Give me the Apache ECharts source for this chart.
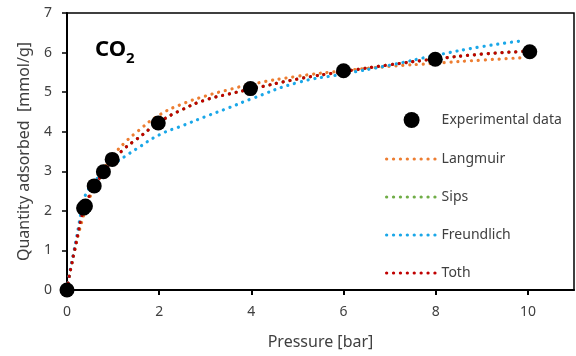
<!DOCTYPE html>
<html>
<head>
<meta charset="utf-8">
<script src="https://cdn.jsdelivr.net/npm/echarts@6/dist/echarts.min.js"></script>
<style>html,body{margin:0;padding:0;background:#fff}#c{width:576px;height:356px}</style>
</head>
<body>
<div id="c"></div>
<script>
// Experimental data
const expP = [0, 0.36, 0.4, 0.59, 0.79, 0.98, 1.98, 3.98, 6.0, 7.99, 10.04];
const expQ = [0, 2.07, 2.12, 2.63, 2.99, 3.30, 4.22, 5.09, 5.54, 5.83, 6.02];

// Model curves
const fitP = [0, 0.05, 0.1, 0.15, 0.2, 0.25, 0.3, 0.35, 0.4, 0.5, 0.6, 0.8, 1, 1.25, 1.5, 2, 2.5, 3, 3.5, 4, 5, 6, 7, 8, 9, 9.9];
const langmuirQ = [0, 0.34, 0.65, 0.92, 1.18, 1.42, 1.64, 1.84, 2.02, 2.35, 2.62, 3.07, 3.40, 3.72, 3.98, 4.42, 4.70, 4.90, 5.06, 5.20, 5.40, 5.54, 5.65, 5.73, 5.81, 5.87];
const sipsQ     = [0, 0.36, 0.64, 0.93, 1.20, 1.50, 1.78, 1.98, 2.14, 2.42, 2.64, 2.98, 3.27, 3.58, 3.80, 4.24, 4.56, 4.80, 4.95, 5.08, 5.33, 5.52, 5.69, 5.84, 5.96, 6.03];
const freundQ   = [0, 0.38, 0.68, 0.98, 1.28, 1.60, 1.93, 2.20, 2.40, 2.60, 2.75, 2.98, 3.17, 3.37, 3.56, 3.92, 4.15, 4.38, 4.60, 4.83, 5.24, 5.46, 5.68, 5.93, 6.15, 6.30];
const tothQ     = [0, 0.36, 0.64, 0.93, 1.20, 1.50, 1.78, 1.98, 2.14, 2.42, 2.64, 2.98, 3.27, 3.58, 3.80, 4.24, 4.56, 4.80, 4.95, 5.08, 5.33, 5.52, 5.69, 5.84, 5.96, 6.03];

const xTicks = [0, 2, 4, 6, 8, 10];
const yTicks = [0, 1, 2, 3, 4, 5, 6, 7];

const pair = (xs, ys) => xs.map((x, i) => [x, ys[i]]);
const FONT = 'Noto Sans';
const DOT = [0.1, 6.8];
const dotted = (color) => ({
  type: 'line', showSymbol: false, symbol: 'none', smooth: true,
  lineStyle: { color: color, width: 3.2, type: DOT, cap: 'round' },
  itemStyle: { color: color },
  z: 2
});
const legItem = (name) => ({ name: name, itemStyle: { opacity: 0 }, lineStyle: { width: 3.2, type: DOT, cap: 'round' } });

const chart = echarts.init(document.getElementById('c'));
chart.setOption({
  animation: false,
  backgroundColor: '#fff',
  textStyle: { fontFamily: FONT },
  title: {
    text: '{a|CO}{b|2}',
    left: 90, top: 34,
    textStyle: {
      rich: {
        a: { fontFamily: FONT, fontSize: 22, fontWeight: 'bold', color: '#000', verticalAlign: 'bottom' },
        b: { fontFamily: FONT, fontSize: 15, fontWeight: 'bold', color: '#000', verticalAlign: 'bottom', padding: [0, 0, -5, 0] }
      }
    }
  },
  grid: { left: 67, right: 2, top: 13, bottom: 66, show: true, borderColor: '#000', borderWidth: 1.5, containLabel: false },
  legend: {
    orient: 'vertical', left: 380, top: 107,
    itemWidth: 50, itemHeight: 16, itemGap: 24,
    textStyle: { fontFamily: FONT, fontSize: 14, color: '#404040' },
    data: [
      { name: 'Experimental data', itemStyle: { opacity: 1 } },
      legItem('Langmuir'), legItem('Sips'), legItem('Freundlich'), legItem('Toth')
    ]
  },
  xAxis: {
    type: 'value', min: 0, max: 11, interval: 2,
    name: 'Pressure [bar]', nameLocation: 'middle', nameGap: 44,
    nameTextStyle: { fontFamily: FONT, fontSize: 16, color: '#404040' },
    axisLine: { lineStyle: { color: '#000', width: 2 } },
    axisTick: { show: true, length: 5, customValues: xTicks, lineStyle: { color: '#000', width: 2 } },
    axisLabel: { customValues: xTicks, fontFamily: FONT, fontSize: 14, color: '#404040', margin: 15,
      formatter: v => (xTicks.indexOf(v) >= 0 ? String(v) : '') },
    splitLine: { show: false }
  },
  yAxis: {
    type: 'value', min: 0, max: 7, interval: 1,
    name: 'Quantity adsorbed  [mmol/g]', nameLocation: 'middle', nameGap: 35,
    nameTextStyle: { fontFamily: FONT, fontSize: 16, color: '#404040' },
    axisLine: { show: true, lineStyle: { color: '#000', width: 2 } },
    axisTick: { show: true, length: 5, customValues: yTicks, lineStyle: { color: '#000', width: 1.5 } },
    axisLabel: { customValues: yTicks, fontFamily: FONT, fontSize: 14, color: '#404040', margin: 15 },
    splitLine: { show: false }
  },
  series: [
    { name: 'Experimental data', type: 'scatter', data: pair(expP, expQ), symbol: 'circle', symbolSize: 15,
      itemStyle: { color: '#000', opacity: 1 }, z: 5 },
    Object.assign(dotted('#ED7D31'), { name: 'Langmuir', data: pair(fitP, langmuirQ) }),
    Object.assign(dotted('#70AD47'), { name: 'Sips', data: pair(fitP, sipsQ) }),
    Object.assign(dotted('#1AA7E8'), { name: 'Freundlich', data: pair(fitP, freundQ) }),
    Object.assign(dotted('#C00000'), { name: 'Toth', data: pair(fitP, tothQ) })
  ]
});
</script>
</body>
</html>
